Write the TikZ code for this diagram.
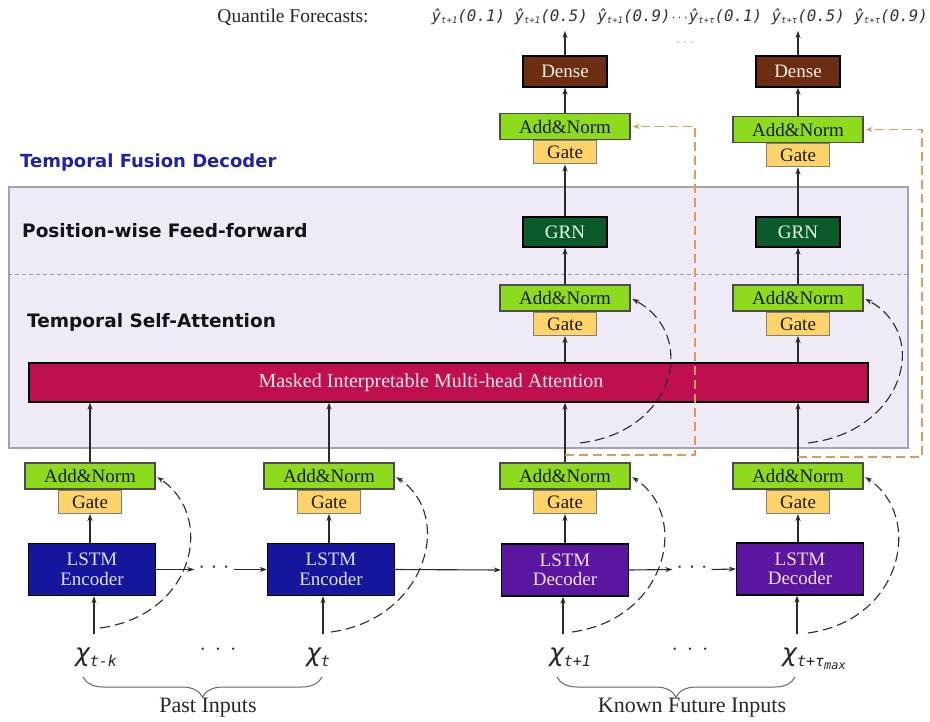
\documentclass[tikz,border=0pt]{standalone}
\usepackage{fontspec}
\setmainfont{Liberation Serif}
\newfontfamily\labelsans{DejaVu Sans}
\newfontfamily\monoit{DejaVu Sans Mono Oblique}
\newfontfamily\chifont{DejaVu Sans Oblique}
\usetikzlibrary{arrows.meta, decorations.pathreplacing, calc}

\definecolor{addgreen}{HTML}{8EDB1E}
\definecolor{gateyel}{HTML}{FDD36A}
\definecolor{encblue}{HTML}{15169C}
\definecolor{decpurple}{HTML}{5A169E}
\definecolor{attnred}{HTML}{BF0F4F}
\definecolor{grngreen}{HTML}{0B5A2B}
\definecolor{densebrown}{HTML}{6C2E12}
\definecolor{lavender}{HTML}{EEEAF6}
\definecolor{boxframe}{HTML}{A3A3AD}
\definecolor{skiporange}{HTML}{DE9B58}
\definecolor{titleblue}{HTML}{2121A6}
\definecolor{linegray}{HTML}{2A2A2A}

% quantile output label: y-hat with a small index and the quantile
\newcommand{\qhat}[2]{ŷ\raisebox{-1.5pt}{\fontsize{9}{9}\selectfont #1}(#2)}
% model input label: chi with an index
\newcommand{\inp}[1]{{\chifont χ}\raisebox{-5pt}{\fontsize{15}{16}\selectfont\monoit #1}}

\tikzset{
  boxbase/.style={draw, line width=1.3pt, inner sep=0pt, align=center,
    font=\fontsize{19}{19.5}\selectfont},
  addnorm/.style={boxbase, draw=black!70, fill=addgreen, text=black!90,
    minimum width=130pt, minimum height=26pt},
  gatebox/.style={boxbase, draw=black!50, fill=gateyel, text=black!90,
    minimum width=63pt, minimum height=23pt},
  lstmenc/.style={boxbase, draw=black, fill=encblue, text=white!88!blue,
    minimum width=127pt, minimum height=52pt},
  lstmdec/.style={boxbase, draw=black, fill=decpurple, text=white!88!violet,
    minimum width=127pt, minimum height=52pt},
  grnbox/.style={boxbase, draw=black, fill=grngreen, text=white!90!green,
    minimum width=84pt, minimum height=30pt},
  densebox/.style={boxbase, draw=black, fill=densebrown, text=white!90!orange,
    minimum width=84pt, minimum height=31pt},
  attnbar/.style={draw=black, line width=1.3pt, fill=attnred, inner sep=0pt},
  tfdbox/.style={draw=boxframe, line width=1.3pt, fill=lavender, inner sep=0pt},
  divider/.style={draw=black!40, line width=1pt, dash pattern=on 4pt off 3pt},
  flow/.style={draw=linegray, line width=1.1pt, -{Stealth[length=7pt,width=5pt]}},
  skipdash/.style={draw=linegray, line width=1.1pt, dash pattern=on 10pt off 5pt,
    -{Stealth[length=7pt,width=5pt]}, shorten >=2pt},
  skiporange/.style={draw=skiporange, line width=1.4pt, dash pattern=on 9pt off 5pt,
    -{Stealth[length=7pt,width=5pt]}, shorten >=2pt},
  sectionlab/.style={anchor=west, inner sep=0pt, text=black!92,
    font=\labelsans\bfseries\fontsize{18.5}{20}\selectfont},
  hdots/.style={inner sep=4pt, font=\fontsize{19}{20}\selectfont, text=black!85},
  inputlab/.style={inner sep=0pt, anchor=base, text=black!85,
    font=\fontsize{25}{26}\selectfont},
  bracestyle/.style={draw=black!60, line width=1pt,
    decorate, decoration={brace, mirror, amplitude=20pt}},
  bottomlab/.style={inner sep=0pt, text=black!85, font=\fontsize{22}{24}\selectfont},
}

\begin{document}
\begin{tikzpicture}[x=1pt, y=-1pt]
\useasboundingbox (0,0) rectangle (930,721);
\fill[white] (0,0) rectangle (930,721);

% ---- Temporal fusion decoder panel ----
\node[tfdbox, minimum width=899pt, minimum height=261pt] (tfd) at (458.5,317.5) {};
\draw[divider] (tfd.west |- 0,274) -- (tfd.east |- 0,274);
\node[sectionlab, text=titleblue, font=\labelsans\bfseries\fontsize{18}{20}\selectfont]
  (tfdtitle) at (20,163) {Temporal Fusion Decoder};
\node[sectionlab] (pwff) at (22,231) {Position-wise Feed-forward};
\node[sectionlab] (tsa) at (27,322) {Temporal Self-Attention};

% ---- attention layer ----
\node[attnbar, minimum width=839pt, minimum height=39pt] (attn) at (448.5,382.5) {};
\node[inner sep=0pt, text=white!92!red, font=\fontsize{20}{22}\selectfont]
  (attnlab) at (431,383) {Masked Interpretable Multi-head Attention};

% ---- LSTM encoder / decoder columns ----
\node[addnorm] (an1) at (90,476) {Add\&Norm};
\node[gatebox, anchor=north] (g1) at (an1.south) {Gate};
\node[lstmenc] (l1) at (92,569.5) {LSTM\\Encoder};

\node[addnorm] (an2) at (329,476) {Add\&Norm};
\node[gatebox, anchor=north] (g2) at (an2.south) {Gate};
\node[lstmenc] (l2) at (331,569.5) {LSTM\\Encoder};

\node[addnorm] (an3) at (565,476) {Add\&Norm};
\node[gatebox, anchor=north] (g3) at (an3.south) {Gate};
\node[lstmdec] (l3) at (565,570) {LSTM\\Decoder};

\node[addnorm] (an4) at (798,476) {Add\&Norm};
\node[gatebox, anchor=north] (g4) at (an4.south) {Gate};
\node[lstmdec] (l4) at (800,569) {LSTM\\Decoder};

% ---- decoder stacks above the attention layer ----
\foreach \c/\cx/\ta in {3/565/126.5, 4/798/129.5}{
  \node[addnorm] (am\c) at (\cx,298) {Add\&Norm};
  \node[gatebox, anchor=north] (gm\c) at (am\c.south) {Gate};
  \node[grnbox] (grn\c) at (\cx,232) {GRN};
  \node[addnorm] (at\c) at (\cx,\ta) {Add\&Norm};
  \node[gatebox, anchor=north] (gt\c) at (at\c.south) {Gate};
  \node[densebox] (d\c) at (\cx,71.5) {Dense};
}

% ---- outputs ----
\node[inner sep=0pt, text=black!85, font=\fontsize{19.5}{21}\selectfont]
  (qflab) at (293,17) {Quantile Forecasts:};
\node[inner sep=0pt, anchor=east, text=black!80, font=\monoit\fontsize{15.8}{17}\selectfont]
  (qvals) at (928,17)
  {\qhat{t+1}{0.1} \qhat{t+1}{0.5} \qhat{t+1}{0.9}{\fontsize{10}{10}\selectfont···}\qhat{t+τ}{0.1} \qhat{t+τ}{0.5} \qhat{t+τ}{0.9}};
\node[inner sep=0pt, text=black!45, font=\fontsize{12}{12}\selectfont]
  (qdots) at (685,44) {·\hspace{3pt}·\hspace{3pt}·};
\coordinate (q3) at (565,31);
\coordinate (q4) at (798,31);

% ---- inputs ----
\node[inputlab] (x1) at (96,661) {\inp{t-k}};
\node[inputlab] (x2) at (318,661) {\inp{t}};
\node[inputlab] (x3) at (570,661) {\inp{t+1}};
\node[inputlab] (x4) at (814,661) {\inp{t+τ\raisebox{-3pt}{\fontsize{12}{12}\selectfont max}}};
\node[hdots, inner sep=0pt] (xd1) at (218,652) {·\hspace{9pt}·\hspace{9pt}·};
\node[hdots, inner sep=0pt] (xd2) at (690,652) {·\hspace{9pt}·\hspace{9pt}·};

\coordinate (i1) at (94,634);
\coordinate (i2) at (323,634);
\coordinate (i3) at (563,634);
\coordinate (i4) at (797,634);
\coordinate (k1) at (100,628);
\coordinate (k2) at (331,632);
\coordinate (k3) at (572,632);
\coordinate (k4) at (808,633);

% ---- recurrent connections ----
\node[hdots] (hd1) at (214,569.5) {·\hspace{6pt}·\hspace{6pt}·};
\node[hdots] (hd2) at (692,569.5) {·\hspace{6pt}·\hspace{6pt}·};
\draw[flow] (l1.east) -- (hd1.west);
\draw[flow] (hd1.east) -- (l2.west);
\draw[flow] (l2.east) -- (l3.west);
\draw[flow] (l3.east) -- (hd2.west);
\draw[flow] (hd2.east) -- (l4.west);

% ---- vertical data flow ----
\foreach \c in {1,2,3,4}{
  \draw[flow] (i\c) -- (i\c |- l\c.south);
  \draw[flow] (g\c.south |- l\c.north) -- (g\c.south);
  \draw[flow] (an\c.north) -- (an\c.north |- attn.south);
  \draw[skipdash] (k\c) .. controls +(95,-13) and +(60,40) .. (an\c.east);
}
\foreach \c in {3,4}{
  \draw[flow] (gm\c.south |- attn.north) -- (gm\c.south);
  \draw[flow] (am\c.north) -- (grn\c.south);
  \draw[flow] (grn\c.north) -- (gt\c.south);
  \draw[flow] (at\c.north) -- (d\c.south);
  \draw[flow] (d\c.north) -- (q\c);
}

% ---- skip connections around the attention layer ----
\coordinate (u3) at (580,443);
\coordinate (u4) at (808,443);
\draw[skipdash] (u3) .. controls +(95,-11) and +(68,37) .. (am3.east);
\draw[skipdash] (u4) .. controls +(95,-11) and +(68,37) .. (am4.east);

% ---- gated skip connections over the whole decoder ----
\coordinate (b3) at (565,455);
\coordinate (o3) at (695,455);
\coordinate (b4) at (798,457);
\coordinate (o4) at (922,457);
\draw[skiporange] (b3) -- (o3) |- (at3.east);
\draw[skiporange] (b4) -- (o4) |- (at4.east);

% ---- input groups ----
\coordinate (bl1) at (83,677);
\coordinate (br1) at (322,677);
\coordinate (bl2) at (557,677);
\coordinate (br2) at (795,677);
\draw[bracestyle] (bl1) -- (br1);
\draw[bracestyle] (bl2) -- (br2);
\node[bottomlab] (past) at (208,708) {Past Inputs};
\node[bottomlab] (future) at (692,708) {Known Future Inputs};
\end{tikzpicture}
\end{document}
